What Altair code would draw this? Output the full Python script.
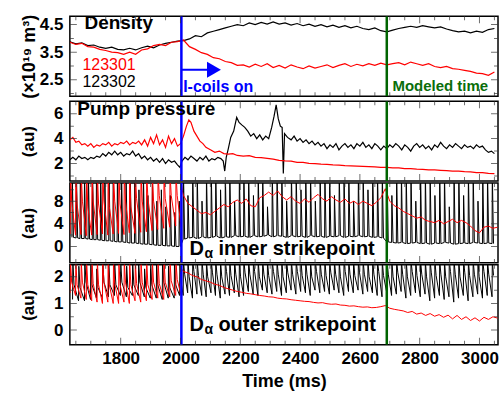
import altair as alt
import pandas as pd

# ---------------- data ----------------
time_domain = [1630, 3062]
vline_t = [2003, 2690]
vline_c = ["#0000ff", "#006400"]

xtick_major = [1800, 2000, 2200, 2400, 2600, 2800, 3000]
xtick_minor = [1650, 1700, 1750, 1850, 1900, 1950, 2050, 2100, 2150, 2250, 2300, 2350,
               2450, 2500, 2550, 2650, 2700, 2750, 2850, 2900, 2950, 3050]

# Density (x10^19 m^-3), sampled every 20 ms
dens_t = list(range(1630, 3070, 20))
dens_123301 = [3.86, 3.78, 3.82, 3.70, 3.68, 3.60, 3.56, 3.50, 3.48, 3.42,
               3.50, 3.42, 3.58, 3.62, 3.74, 3.78, 3.74, 3.86, 3.88, 3.94,
               3.70, 3.60, 3.48, 3.42, 3.30, 3.26, 3.16, 3.12, 3.02, 3.04,
               2.96, 3.06, 2.98, 3.08, 2.94, 3.02, 2.92, 3.04, 2.96, 2.90,
               3.00, 2.92, 2.98, 3.04, 2.94, 3.02, 3.08, 2.98, 3.06, 3.00,
               3.08, 3.02, 3.10, 3.04, 3.08, 3.12, 3.04, 3.14, 3.08, 3.02,
               3.08, 2.98, 2.94, 2.98, 2.90, 2.88, 2.84, 2.80, 2.74, 2.72,
               2.66, 2.78]
dens_123302 = [3.88, 3.80, 3.84, 3.74, 3.76, 3.68, 3.64, 3.68, 3.60, 3.58,
               3.64, 3.58, 3.66, 3.72, 3.66, 3.76, 3.82, 3.86, 3.90, 3.92,
               3.98, 4.10, 4.06, 4.20, 4.26, 4.32, 4.38, 4.44, 4.50, 4.46,
               4.56, 4.50, 4.58, 4.52, 4.60, 4.52, 4.56, 4.48, 4.54, 4.46,
               4.52, 4.44, 4.50, 4.42, 4.48, 4.40, 4.46, 4.38, 4.44, 4.36,
               4.32, 4.38, 4.28, 4.24, 4.30, 4.36, 4.40, 4.44, 4.40, 4.46,
               4.42, 4.38, 4.42, 4.34, 4.28, 4.24, 4.26, 4.20, 4.26, 4.22,
               4.32, 4.36]

# Pump pressure (au)
pump_123301_t = [1630, 1640, 1650, 1660, 1670, 1680, 1690, 1700, 1710, 1720,
                 1730, 1740, 1750, 1760, 1770, 1780, 1790, 1800, 1810, 1820,
                 1830, 1840, 1850, 1860, 1870, 1880, 1890, 1900, 1910, 1920,
                 1930, 1940, 1950, 1960, 1970, 1980, 1990, 2000, 2010, 2020,
                 2028, 2035, 2045, 2055, 2065, 2075, 2085, 2100, 2115, 2130,
                 2145, 2160, 2175, 2190, 2210, 2230, 2250, 2270, 2290, 2310,
                 2330, 2350, 2370, 2390, 2410, 2430, 2450, 2470, 2490, 2510,
                 2530, 2550, 2570, 2590, 2610, 2630, 2650, 2670, 2690, 2710,
                 2730, 2750, 2770, 2790, 2810, 2830, 2850, 2870, 2890, 2910,
                 2930, 2950, 2970, 2990, 3010, 3030, 3050]
pump_123301 = [3.9, 4.1, 3.7, 3.8, 3.5, 3.6, 3.4, 3.6, 3.3, 3.5,
               3.4, 3.6, 3.5, 3.7, 3.4, 3.6, 3.5, 3.7, 3.6, 3.8,
               3.5, 3.7, 3.6, 3.8, 3.5, 3.9, 3.4, 4.1, 3.6, 4.3,
               3.5, 3.9, 3.3, 4.2, 3.6, 4.0, 3.4, 3.6, 4.2, 5.0,
               5.5, 5.3, 4.6, 4.2, 3.8, 3.6, 3.3, 3.1, 2.9, 3.0,
               2.8, 2.75, 2.8, 2.65, 2.6, 2.64, 2.5, 2.47, 2.42, 2.36,
               2.26, 2.22, 2.2, 2.1, 2.1, 2.02, 2.0, 1.95, 1.94, 1.9,
               1.88, 1.84, 1.82, 1.8, 1.77, 1.75, 1.73, 1.7, 1.69, 1.66,
               1.65, 1.6, 1.6, 1.55, 1.53, 1.5, 1.49, 1.46, 1.43, 1.4,
               1.39, 1.35, 1.33, 1.28, 1.27, 1.22, 1.2]
pump_123302_t = [1630, 1640, 1650, 1660, 1670, 1680, 1690, 1700, 1710, 1720,
                 1730, 1740, 1750, 1760, 1770, 1780, 1790, 1800, 1810, 1820,
                 1830, 1840, 1850, 1860, 1870, 1880, 1890, 1900, 1910, 1920,
                 1930, 1940, 1950, 1960, 1970, 1980, 1990, 1998, 2005, 2015,
                 2025, 2035, 2045, 2055, 2065, 2075, 2085, 2095, 2105, 2115,
                 2125, 2135, 2143, 2148, 2153, 2160, 2168, 2178, 2188, 2196,
                 2205, 2215, 2225, 2235, 2245, 2255, 2265, 2275, 2285, 2295,
                 2305, 2313, 2320, 2327, 2334, 2340, 2344, 2348, 2358, 2370,
                 2380, 2390, 2400, 2410, 2420, 2430, 2440, 2450, 2460, 2470,
                 2480, 2490, 2500, 2510, 2520, 2530, 2540, 2550, 2560, 2570,
                 2580, 2590, 2600, 2610, 2620, 2630, 2640, 2650, 2660, 2670,
                 2680, 2690, 2700, 2710, 2720, 2730, 2740, 2750, 2760, 2770,
                 2780, 2790, 2800, 2810, 2820, 2830, 2840, 2850, 2860, 2870,
                 2880, 2890, 2900, 2910, 2920, 2930, 2940, 2950, 2960, 2970,
                 2980, 2990, 3000, 3010, 3020, 3030, 3040, 3050]
pump_123302 = [2.3, 2.5, 2.3, 2.6, 2.4, 2.5, 2.3, 2.5, 2.4, 2.6,
               2.5, 2.8, 2.6, 2.9, 2.7, 3.0, 2.7, 2.9, 2.6, 2.8,
               2.7, 3.0, 2.6, 2.8, 2.4, 2.6, 2.3, 2.5, 2.2, 2.4,
               2.1, 2.4, 2.0, 2.3, 2.1, 2.2, 1.9, 1.7, 2.2, 2.5,
               2.3, 2.6, 2.4, 2.2, 2.5, 2.3, 2.6, 2.2, 2.4, 2.3,
               2.5, 2.4, 2.2, 1.4, 2.5, 3.2, 4.1, 4.6, 5.7, 5.3,
               5.1, 4.9, 4.6, 4.2, 4.4, 4.0, 4.3, 3.9, 4.2, 4.0,
               4.9, 5.8, 6.7, 5.6, 5.0, 4.9, 1.2, 4.4, 4.1, 3.9,
               4.2, 3.8, 4.0, 3.7, 3.9, 3.6, 3.8, 3.5, 3.7, 3.4,
               3.6, 3.2, 3.5, 3.3, 3.6, 3.1, 3.4, 3.6, 3.3, 3.5,
               3.2, 3.6, 3.4, 3.7, 3.3, 3.5, 3.2, 3.6, 3.4, 3.1,
               3.4, 3.2, 3.5, 3.3, 3.6, 3.4, 3.1, 3.5, 3.3, 3.0,
               3.4, 3.6, 3.3, 3.5, 3.2, 3.4, 3.1, 3.5, 3.3, 3.7,
               3.4, 3.2, 3.5, 3.3, 3.6, 3.4, 3.2, 3.5, 3.3, 3.4,
               3.2, 3.5, 3.3, 3.4, 3.1, 2.9, 3.0, 2.8]

# ELM spikes, shot 123302 (black): spike times, base before, peak, value just after
elm_302_t = [1638, 1652, 1665, 1679, 1692, 1706, 1719, 1733, 1747, 1761,
             1775, 1789, 1803, 1818, 1832, 1847, 1861, 1876, 1891, 1906,
             1921, 1936, 1951, 1966, 1981, 1996,
             2010, 2025, 2041, 2056, 2072, 2087, 2103, 2118, 2134, 2150,
             2165, 2181, 2197, 2212, 2228, 2244, 2260, 2275, 2291, 2307,
             2323, 2339, 2355, 2371, 2387, 2403, 2419, 2435, 2451, 2467,
             2483, 2499, 2515, 2531, 2547, 2563, 2579, 2595, 2611, 2627,
             2643, 2659, 2675, 2691, 2707, 2723, 2739, 2755, 2771, 2787,
             2803, 2819, 2835, 2851, 2867, 2883, 2899, 2915, 2931, 2947,
             2963, 2979, 2995, 3011, 3027, 3043]
inner_302_base = [1.6, 1.5, 1.4, 1.4, 1.3, 1.2, 1.2, 1.1, 1.0, 1.0,
                  0.9, 0.8, 0.8, 0.7, 0.6, 0.6, 0.5, 0.4, 0.4, 0.3,
                  0.2, 0.2, 0.1, 0.1, 0.0, 0.0,
                  1.3, 1.5, 1.6, 1.4, 1.7, 1.5, 1.6, 1.8, 1.5, 1.7,
                  1.6, 1.9, 1.7, 1.8, 1.6, 1.9, 1.7, 1.8, 2.0, 1.7,
                  1.9, 1.8, 1.6, 1.9, 1.7, 1.8, 1.6, 1.9, 1.7, 1.8,
                  1.6, 1.8, 1.7, 1.9, 1.6, 1.8, 1.7, 1.9, 1.7, 1.8,
                  1.6, 1.7, 1.5, 0.8, 0.7, 0.6, 0.7, 0.5, 0.6, 0.7,
                  0.5, 0.6, 0.4, 0.6, 0.5, 0.7, 0.6, 0.4, 0.5, 0.6,
                  0.5, 0.7, 0.6, 0.5, 0.6, 0.5]
inner_302_peak = [13, 13, 13, 13, 13, 13, 13, 13, 13, 13,
                  13, 13, 13, 13, 13, 13, 10, 13, 9, 12,
                  8, 10, 7, 9, 6, 8,
                  13, 9, 13, 13, 8, 13, 13, 13, 10, 13,
                  13, 8, 13, 13, 13, 9, 13, 13, 7, 13,
                  13, 13, 8, 13, 13, 10, 13, 13, 8, 13,
                  13, 13, 9, 13, 13, 13, 8, 13, 13, 10,
                  13, 13, 13, 13, 9, 13, 13, 13, 13, 8,
                  13, 13, 13, 9, 13, 13, 7, 13, 13, 9,
                  13, 13, 8, 13, 13, 13]
outer_302_t = [1640, 1660, 1680, 1700, 1720, 1740, 1760, 1780, 1800, 1820,
               1840, 1860, 1880, 1900, 1920, 1940, 1960, 1980, 1998,
               2010, 2025, 2041, 2056, 2072, 2087, 2103, 2118, 2134, 2150,
               2165, 2181, 2197, 2212, 2228, 2244, 2260, 2275, 2291, 2307,
               2323, 2339, 2355, 2371, 2387, 2403, 2419, 2435, 2451, 2467,
               2483, 2499, 2515, 2531, 2547, 2563, 2579, 2595, 2611, 2627,
               2643, 2659, 2675, 2691, 2707, 2723, 2739, 2755, 2771, 2787,
               2803, 2819, 2835, 2851, 2867, 2883, 2899, 2915, 2931, 2947,
               2963, 2979, 2995, 3011, 3027, 3043]
outer_302_base = [1.15, 1.1, 1.1, 1.15, 1.2, 1.2, 1.25, 1.3, 1.3, 1.25,
                  1.3, 1.3, 1.25, 1.2, 1.2, 1.15, 1.2, 1.2, 1.3,
                  1.3, 1.4, 1.2, 1.35, 1.3, 1.25, 1.4, 1.3, 1.2, 1.35,
                  1.3, 1.4, 1.25, 1.3, 1.45, 1.35, 1.3, 1.5, 1.4, 1.35,
                  1.45, 1.3, 1.4, 1.5, 1.35, 1.45, 1.4, 1.3, 1.5, 1.4,
                  1.45, 1.35, 1.5, 1.4, 1.3, 1.45, 1.4, 1.5, 1.35, 1.45,
                  1.4, 1.3, 1.25, 1.4, 1.3, 1.35, 1.45, 1.2, 1.3, 1.4,
                  1.25, 1.35, 1.1, 1.2, 1.3, 1.15, 1.25, 1.05, 1.2, 1.3,
                  1.1, 1.25, 1.35, 1.2, 1.3, 1.25]
outer_302_peak = [2.6, 2.4, 2.6, 2.6, 2.3, 2.6, 2.6, 2.5, 2.6, 2.4,
                  2.6, 2.6, 2.3, 2.6, 2.5, 2.6, 2.4, 2.6, 2.6,
                  2.6, 2.6, 2.6, 2.6, 2.6, 2.6, 2.6, 2.6, 2.6, 2.6,
                  2.6, 2.6, 2.6, 2.6, 2.6, 2.6, 2.6, 2.6, 2.6, 2.6,
                  2.6, 2.6, 2.6, 2.6, 2.6, 2.6, 2.6, 2.6, 2.6, 2.6,
                  2.6, 2.6, 2.6, 2.6, 2.6, 2.6, 2.6, 2.6, 2.6, 2.6,
                  2.6, 2.6, 2.6, 2.6, 2.6, 2.6, 2.6, 2.6, 2.6, 2.6,
                  2.6, 2.6, 2.6, 2.6, 2.6, 2.6, 2.6, 2.6, 2.6, 2.6,
                  2.6, 2.6, 2.6, 2.6, 2.6, 2.6]
outer_302_after = [1.7, 1.6, 1.8, 1.7, 1.6, 1.8, 1.7, 1.7, 1.8, 1.6,
                   1.7, 1.8, 1.6, 1.7, 1.7, 1.8, 1.6, 1.7, 1.8,
                   2.1, 2.0, 2.2, 2.05, 2.1, 2.0, 2.15, 2.1, 2.0, 2.2,
                   2.05, 2.1, 2.0, 2.15, 2.1, 2.2, 2.0, 2.1, 2.05, 2.2,
                   2.1, 2.0, 2.15, 2.1, 2.2, 2.05, 2.1, 2.0, 2.2, 2.1,
                   2.05, 2.15, 2.1, 2.0, 2.2, 2.1, 2.05, 2.15, 2.1, 2.0,
                   2.1, 2.2, 2.05, 2.1, 2.0, 2.15, 2.1, 2.0, 2.2, 2.05,
                   2.1, 2.0, 2.15, 2.05, 2.1, 2.0, 2.2, 2.1, 2.0, 2.15,
                   2.05, 2.1, 2.0, 2.2, 2.1, 2.05]

# ELM spikes, shot 123301 (red), before the I-coils
elm_301_t = [1632, 1650, 1668, 1686, 1704, 1722, 1740, 1758, 1776, 1794,
             1812, 1830, 1849, 1868, 1887, 1906, 1925, 1945, 1965, 1985, 2003]
inner_301_base = [2.2, 2.0, 2.1, 1.9, 2.0, 2.1, 2.2, 2.0, 2.2, 2.3,
                  2.1, 2.4, 2.3, 2.5, 2.6, 2.8, 3.0, 3.2, 3.4, 3.6, 3.4]
inner_301_peak = [13, 13, 13, 13, 13, 13, 13, 13, 13, 13,
                  13, 13, 13, 13, 13, 13, 13, 13, 13, 13, 11.2]
inner_301_after = [8.0, 7.5, 8.0, 7.0, 8.0, 7.5, 8.0, 7.0, 8.0, 7.5,
                   8.0, 7.0, 8.5, 8.0, 8.5, 8.0, 9.0, 8.5, 9.0, 9.0, 9.6]
outer_301_base = [1.4, 1.3, 1.2, 1.15, 1.1, 1.05, 1.0, 1.05, 1.0, 1.0,
                  1.05, 1.0, 1.1, 1.05, 1.1, 1.15, 1.2, 1.15, 1.25, 1.3, 1.3]
outer_301_peak = [2.6, 2.6, 2.6, 2.6, 2.6, 2.6, 2.6, 2.6, 2.6, 2.6,
                  2.6, 2.6, 2.6, 2.6, 2.6, 2.6, 2.6, 2.6, 2.6, 2.6, 2.3]
outer_301_after = [1.8, 1.7, 1.8, 1.7, 1.75, 1.7, 1.8, 1.7, 1.75, 1.7,
                   1.8, 1.7, 1.75, 1.8, 1.7, 1.8, 1.75, 1.8, 1.85, 1.9, 2.25]

# 123301 after the I-coils: continuous traces every 15 ms
post_t = list(range(2010, 3075, 15))
inner_301_post = [9.0, 7.6, 7.0, 6.4, 5.8, 6.0, 5.6, 6.2, 6.8, 7.4,
                  7.0, 7.8, 8.2, 7.6, 8.4, 7.2, 7.0, 8.6, 9.0, 9.6,
                  9.0, 9.8, 8.8, 8.2, 8.8, 8.0, 7.6, 8.4, 7.8, 8.6,
                  9.2, 8.4, 8.0, 8.8, 8.2, 7.8, 8.4, 7.6, 8.0, 7.4,
                  8.0, 7.6, 7.2, 7.8, 8.6, 10.2, 8.0, 7.2, 6.8, 6.2,
                  5.8, 5.4, 5.0, 5.2, 4.6, 4.4, 4.2, 4.6, 4.0, 4.4,
                  4.8, 4.2, 4.6, 4.2, 3.6, 2.8, 2.4, 3.4, 3.6, 3.2,
                  3.4]
outer_301_post = [2.2, 2.15, 2.05, 2.0, 1.9, 1.85, 1.8, 1.72, 1.68, 1.6,
                  1.55, 1.5, 1.45, 1.42, 1.38, 1.36, 1.33, 1.3, 1.28, 1.25,
                  1.24, 1.2, 1.18, 1.17, 1.14, 1.12, 1.1, 1.08, 1.07, 1.04,
                  1.02, 1.03, 0.99, 0.97, 0.98, 0.94, 0.93, 0.9, 0.91, 0.88,
                  0.86, 0.87, 0.84, 0.85, 0.88, 0.92, 0.82, 0.78, 0.75, 0.72,
                  0.66, 0.7, 0.6, 0.64, 0.55, 0.62, 0.52, 0.58, 0.48, 0.56,
                  0.42, 0.55, 0.4, 0.5, 0.36, 0.46, 0.34, 0.48, 0.4, 0.5,
                  0.45]


# ---------------- tables ----------------
def make_df(ts, vs):
    n = min(len(ts), len(vs))
    return pd.DataFrame({"t": list(ts)[:n], "v": list(vs)[:n], "i": list(range(n))})


def spike_df(times, bases, peaks, after, cont_t=(), cont_v=()):
    ts, vs = [], []
    for t, b, p, f in zip(times, bases, peaks, after):
        ts += [t - 1, t, t + 4]
        vs += [b, p, f]
    n = min(len(cont_t), len(cont_v))
    ts += list(cont_t)[:n]
    vs += list(cont_v)[:n]
    return make_df(ts, vs)


vlines = pd.DataFrame({"t": vline_t, "c": vline_c})
xticks = pd.DataFrame({"t": xtick_major + xtick_minor,
                       "len": [14] * len(xtick_major) + [8] * len(xtick_minor)})

FONT = "Liberation Sans"
W, H = 429, 80


def panel(series, ydom, yaxis, xaxis, ymajor, yminor, texts=(), extra=(), sw=1.2):
    xs = alt.Scale(domain=time_domain, nice=False, zero=False)
    ys = alt.Scale(domain=ydom, nice=False, zero=False)

    def X():
        return alt.X("t:Q", scale=xs, axis=xaxis)

    def Y():
        return alt.Y("v:Q", scale=ys, axis=yaxis)

    layers = []
    for df, color in series:
        layers.append(
            alt.Chart(df).mark_line(color=color, strokeWidth=sw, clip=True)
            .encode(x=X(), y=Y(), order=alt.Order("i:Q"))
        )
    for df, kind, kw in extra:
        if kind == "rule":
            layers.append(alt.Chart(df).mark_rule(clip=True, **kw).encode(x=X(), x2="t2:Q", y=Y()))
        else:
            layers.append(alt.Chart(df).mark_point(clip=True, **kw).encode(x=X(), y=Y()))
    layers.append(
        alt.Chart(vlines).mark_rule(strokeWidth=2.5, clip=True)
        .encode(x=X(), color=alt.Color("c:N", scale=None))
    )
    # inward frame ticks
    for edge in (0, H):
        layers.append(
            alt.Chart(xticks).mark_tick(color="#333333", thickness=1, clip=True)
            .encode(x=X(), y=alt.value(edge), size=alt.Size("len:Q", scale=None))
        )
    yt = pd.DataFrame({"v": ymajor + yminor,
                       "len": [14] * len(ymajor) + [8] * len(yminor)})
    for edge in (0, W):
        layers.append(
            alt.Chart(yt).mark_tick(color="#333333", thickness=1, clip=True)
            .encode(y=Y(), x=alt.value(edge), size=alt.Size("len:Q", scale=None))
        )
    for df, kw in texts:
        layers.append(
            alt.Chart(df).mark_text(align="left", baseline="middle", font=FONT, **kw)
            .encode(x=X(), y=Y(), text="label:N")
        )
    return alt.layer(*layers).properties(width=W, height=H)


def ytitle_axis(values, title, pad, fmt, size=17):
    return alt.Axis(values=values, title=title, titlePadding=pad, format=fmt, titleFontSize=size)


# annotations (data coordinates)
def ann(t, v, label):
    return pd.DataFrame({"t": [t], "v": [v], "label": [label]})


p1 = panel(
    [(make_df(dens_t, dens_123302), "#000000"), (make_df(dens_t, dens_123301), "#ff0000")],
    [1.9, 4.8], ytitle_axis([2.5, 3.5, 4.5], "(×10¹⁹ m³)", 1, ".1f", 18), None,
    [2.5, 3.5, 4.5], [2.0, 3.0, 4.0],
    texts=[
        (ann(1679, 4.56, "Density"), dict(fontSize=19, fontWeight="bold", color="black")),
        (ann(1672, 3.05, "123301"), dict(fontSize=16, color="#ff0000")),
        (ann(1672, 2.42, "123302"), dict(fontSize=16, color="black")),
        (ann(2009, 2.25, "I-coils on"), dict(fontSize=16, fontWeight="bold", color="#0000ff")),
        (ann(2709, 2.28, "Modeled time"), dict(fontSize=15, fontWeight="bold", color="#0a6e0a")),
    ],
    extra=[
        (pd.DataFrame({"t": [2003], "t2": [2098], "v": [2.86]}), "rule",
         dict(color="#0000ff", strokeWidth=2)),
        (pd.DataFrame({"t": [2112], "v": [2.86]}), "point",
         dict(shape="triangle-right", filled=True, size=260, color="#0000ff", opacity=1)),
    ],
)

p2 = panel(
    [(make_df(pump_123302_t, pump_123302), "#000000"), (make_df(pump_123301_t, pump_123301), "#ff0000")],
    [0.6, 7.0], ytitle_axis([2, 4, 6], "(au)", 16, "d"), None,
    [2, 4, 6], [1, 3, 5],
    texts=[(ann(1655, 6.35, "Pump pressure"), dict(fontSize=19, fontWeight="bold", color="black"))],
)

p3 = panel(
    [(spike_df(elm_302_t, inner_302_base, inner_302_peak, inner_302_base), "#000000"),
     (spike_df(elm_301_t, inner_301_base, inner_301_peak, inner_301_after, post_t, inner_301_post), "#ff0000")],
    [-2.9, 11.2], ytitle_axis([0, 4, 8], "(au)", 16, "d"), None,
    [0, 4, 8], [2, 6, 10],
    texts=[
        (ann(2030, -0.4, "D"), dict(fontSize=20, fontWeight="bold", color="black")),
        (ann(2030, -0.4, "α"), dict(fontSize=14, fontWeight="bold", color="black", dx=15, dy=5)),
        (ann(2030, -0.4, "inner strikepoint"), dict(fontSize=20, fontWeight="bold", color="black", dx=29)),
    ],
    sw=1.0,
)

p4 = panel(
    [(spike_df(outer_302_t, outer_302_base, outer_302_peak, outer_302_after), "#000000"),
     (spike_df(elm_301_t, outer_301_base, outer_301_peak, outer_301_after, post_t, outer_301_post), "#ff0000")],
    [-0.55, 2.45], ytitle_axis([0, 1, 2], "(au)", 16, "d"),
    alt.Axis(values=xtick_major, format="d", title="Time (ms)",
             labelFlush=False, labelPadding=6, titlePadding=6, titleFontSize=18),
    [0, 1, 2], [0.5, 1.5],
    texts=[
        (ann(2030, 0.2, "D"), dict(fontSize=20, fontWeight="bold", color="black")),
        (ann(2030, 0.2, "α"), dict(fontSize=14, fontWeight="bold", color="black", dx=15, dy=5)),
        (ann(2030, 0.2, "outer strikepoint"), dict(fontSize=20, fontWeight="bold", color="black", dx=29)),
    ],
    sw=1.0,
)

chart = (
    alt.vconcat(p1, p2, p3, p4, spacing=0)
    .properties(padding={"left": 18, "top": 12, "right": 2, "bottom": 2})
    .configure_axis(
        labelFont=FONT, labelFontSize=17, labelFontWeight="bold", labelColor="black",
        titleFont=FONT, titleFontSize=17, titleFontWeight="bold", titleColor="black",
        grid=False, domain=False, ticks=False, labelPadding=7,
    )
    .configure_view(stroke="black", strokeWidth=1.5)
)

chart.save("out.html", embed_options={"renderer": "svg", "actions": False})
